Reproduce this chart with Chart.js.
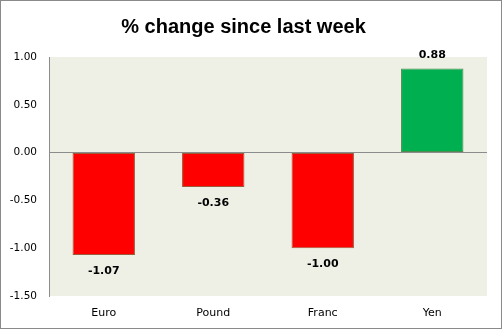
<!DOCTYPE html>
<html>
<head>
<meta charset="utf-8">
<script src="https://cdn.jsdelivr.net/npm/chart.js@4"></script>
<style>
  body { margin: 0; background: #fff; }
  #wrap { width: 502px; height: 329px; }
</style>
</head>
<body>
<div id="wrap"><canvas id="fxChart" width="502" height="329"></canvas></div>
<script>
// Chart data
const categories = ['Euro', 'Pound', 'Franc', 'Yen'];
const changes = [-1.07, -0.36, -1.00, 0.88];
const yTicks = [1.00, 0.50, 0.00, -0.50, -1.00, -1.50];

const plotBg = '#EEF0E6';
const axisGrey = '#8C8C8C';

// Fill the plot area and draw the outer frame
const backdrop = {
    id: 'backdrop',
    beforeDraw(chart) {
        const { ctx, chartArea } = chart;
        ctx.save();
        ctx.fillStyle = plotBg;
        ctx.fillRect(chartArea.left, chartArea.top, chartArea.right - chartArea.left, chartArea.bottom - chartArea.top);
        ctx.restore();
    },
    afterDraw(chart) {
        const ctx = chart.ctx;
        ctx.save();
        ctx.strokeStyle = '#8A8A8A';
        ctx.lineWidth = 1;
        ctx.strokeRect(0.5, 0.5, chart.width - 1, chart.height - 1);
        ctx.restore();
    }
};

// Value labels above / below each bar
const valueLabels = {
    id: 'valueLabels',
    afterDatasetsDraw(chart) {
        const ctx = chart.ctx;
        const meta = chart.getDatasetMeta(0);
        ctx.save();
        ctx.font = 'bold 11px "DejaVu Sans"';
        ctx.fillStyle = '#000';
        ctx.textAlign = 'center';
        ctx.textBaseline = 'middle';
        meta.data.forEach((bar, i) => {
            const v = changes[i];
            const y = v < 0 ? bar.y + 16 : bar.y - 13;
            ctx.fillText(v.toFixed(2), bar.x, y);
        });
        ctx.restore();
    }
};

new Chart(document.getElementById('fxChart'), {
    type: 'bar',
    data: {
        labels: categories,
        datasets: [{
            data: changes,
            backgroundColor: changes.map(v => v < 0 ? '#FF0000' : '#00B050'),
            borderColor: changes.map(v => v < 0 ? '#9C5B3A' : '#4F8A4F'),
            borderWidth: 1,
            borderSkipped: false,
            barPercentage: 0.57,
            categoryPercentage: 1
        }]
    },
    options: {
        responsive: false,
        animation: false,
        layout: { padding: { left: 0, right: 15, top: 0, bottom: 0 } },
        plugins: {
            legend: { display: false },
            tooltip: { enabled: false },
            title: {
                display: true,
                text: '% change since last week',
                color: '#000',
                font: { family: '"Liberation Sans"', size: 20, weight: 'bold', lineHeight: 1.5 },
                padding: { top: 12, bottom: 15 }
            }
        },
        scales: {
            x: {
                grid: { display: false },
                border: { display: false },
                ticks: {
                    color: '#000',
                    font: { family: '"DejaVu Sans"', size: 11 },
                    padding: 3
                },
                afterFit(axis) { axis.height = 33; }
            },
            y: {
                min: -1.5,
                max: 1.0,
                afterBuildTicks(axis) {
                    axis.ticks = yTicks.map(v => ({ value: v }));
                },
                grid: {
                    drawTicks: false,
                    color: ctx => ctx.tick && ctx.tick.value === 0 ? axisGrey : 'rgba(0,0,0,0)',
                    lineWidth: 1
                },
                border: { display: true, color: axisGrey },
                ticks: {
                    color: '#000',
                    font: { family: '"DejaVu Sans"', size: 10.5 },
                    padding: 12,
                    callback: v => v.toFixed(2)
                },
                afterFit(axis) { axis.width = 49; }
            }
        }
    },
    plugins: [backdrop, valueLabels]
});
</script>
</body>
</html>
